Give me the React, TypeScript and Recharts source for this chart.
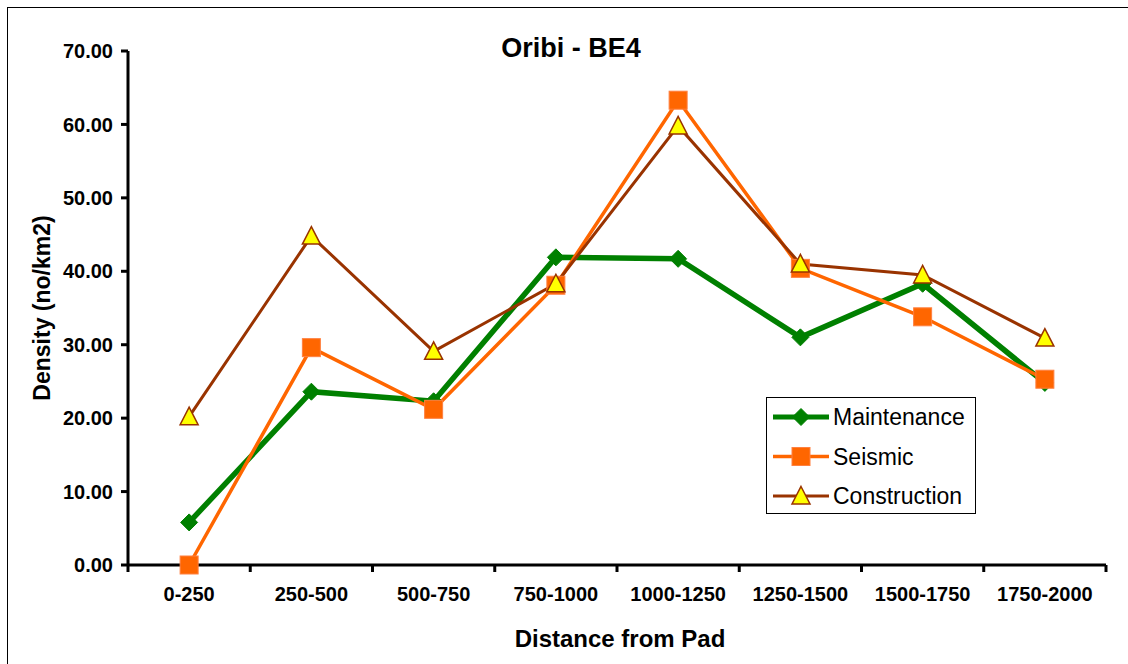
import React from 'react';
import { LineChart, Line, XAxis, YAxis } from 'recharts';

const categories = ['0-250', '250-500', '500-750', '750-1000', '1000-1250', '1250-1500', '1500-1750', '1750-2000'];
const maintenance = [5.8, 23.6, 22.3, 41.9, 41.7, 31.0, 38.3, 24.8];
const seismic = [0.0, 29.6, 21.2, 38.1, 63.3, 40.4, 33.8, 25.3];
const construction = [20.2, 44.8, 29.1, 38.3, 59.8, 41.0, 39.5, 30.9];
const yTicks = [0, 10, 20, 30, 40, 50, 60, 70];

const data = categories.map((c, i) => ({
  cat: c,
  Maintenance: maintenance[i],
  Seismic: seismic[i],
  Construction: construction[i],
}));

const FONT = '"Liberation Sans", Arial, sans-serif';
const GREEN = '#008000';
const ORANGE = '#FF6600';
const BROWN = '#993300';
const YELLOW = '#FFFF00';

const Diamond = ({ cx, cy }: any) => (
  <polygon points={`${cx},${cy - 8.5} ${cx + 8.5},${cy} ${cx},${cy + 8.5} ${cx - 8.5},${cy}`} fill={GREEN} stroke={GREEN} strokeWidth={1} />
);
const Square = ({ cx, cy }: any) => (
  <rect x={cx - 9} y={cy - 9} width={18} height={18} fill={ORANGE} stroke="#FF8040" strokeWidth={1} />
);
const Triangle = ({ cx, cy }: any) => (
  <polygon points={`${cx},${cy - 9.5} ${cx + 9},${cy + 8} ${cx - 9},${cy + 8}`} fill={YELLOW} stroke={BROWN} strokeWidth={1.5} />
);

const XTick = (props: any) => {
  const { x, y, payload, index, visibleTicksCount } = props;
  const off = payload && payload.offset ? payload.offset : 61;
  const last = index === (visibleTicksCount ?? categories.length) - 1;
  return (
    <g>
      <line x1={x - off} x2={x - off} y1={y} y2={y + 7} stroke="#000" strokeWidth={3} />
      {last && <line x1={x + off} x2={x + off} y1={y} y2={y + 7} stroke="#000" strokeWidth={3} />}
      <text x={x} y={y + 29} textAnchor="middle" dominantBaseline="central" fontFamily={FONT} fontWeight="bold" fontSize={20} fill="#000">
        {payload.value}
      </text>
    </g>
  );
};

const legendItems = [
  { name: 'Maintenance', color: GREEN, width: 5, Marker: Diamond },
  { name: 'Seismic', color: ORANGE, width: 3.5, Marker: Square },
  { name: 'Construction', color: BROWN, width: 3, Marker: Triangle },
];

const LegendBox = () => (
  <svg width={210} height={117} style={{ display: 'block' }}>
    <rect x={0.5} y={0.5} width={209} height={116} fill="#fff" stroke="#000" strokeWidth={1} />
    {legendItems.map((it, i) => {
      const cy = 20 + i * 39.5;
      const M = it.Marker;
      return (
        <g key={it.name}>
          <line x1={7} x2={63} y1={cy} y2={cy} stroke={it.color} strokeWidth={it.width} />
          <M cx={35} cy={cy} />
          <text x={67} y={cy} dominantBaseline="central" fontFamily={FONT} fontSize={23} fill="#000">
            {it.name}
          </text>
        </g>
      );
    })}
  </svg>
);

export default function App() {
  return (
    <>
      <style>{'html,body{margin:0;padding:0;overflow:hidden;background:#fff;}'}</style>
      <div
        style={{
          position: 'absolute',
          left: 7,
          top: 7,
          width: 1140,
          height: 680,
          border: '1px solid #000',
          boxSizing: 'border-box',
          background: '#fff',
        }}
      >
        <div style={{ position: 'absolute', left: 0, top: 0 }}>
          <LineChart width={1113} height={660} data={data} margin={{ top: 43, right: 15, left: 20, bottom: 63 }}>
            <XAxis
              dataKey="cat"
              scale="band"
              axisLine={{ stroke: '#000', strokeWidth: 3 }}
              tickLine={false}
              tickSize={0}
              tickMargin={0}
              tick={<XTick />}
              interval={0}
              height={40}
            />
            <YAxis
              type="number"
              domain={[0, 70]}
              ticks={yTicks}
              interval={0}
              width={100}
              tickFormatter={(v: number) => v.toFixed(2)}
              axisLine={{ stroke: '#000', strokeWidth: 3 }}
              tickLine={{ stroke: '#000', strokeWidth: 3 }}
              tickSize={7}
              tickMargin={8}
              tick={{ fill: '#000', fontSize: 20, fontWeight: 'bold', fontFamily: FONT }}
            />
            <Line
              type="linear"
              dataKey="Maintenance"
              stroke={GREEN}
              strokeWidth={5.5}
              isAnimationActive={false}
              dot={(p: any) => <Diamond key={`m-${p.index}`} cx={p.cx} cy={p.cy} />}
              activeDot={false}
            />
            <Line
              type="linear"
              dataKey="Seismic"
              stroke={ORANGE}
              strokeWidth={3.5}
              isAnimationActive={false}
              dot={(p: any) => <Square key={`s-${p.index}`} cx={p.cx} cy={p.cy} />}
              activeDot={false}
            />
            <Line
              type="linear"
              dataKey="Construction"
              stroke={BROWN}
              strokeWidth={3}
              isAnimationActive={false}
              dot={(p: any) => <Triangle key={`c-${p.index}`} cx={p.cx} cy={p.cy} />}
              activeDot={false}
            />
          </LineChart>
        </div>
        <div style={{ position: 'absolute', left: 758, top: 389 }}>
          <LegendBox />
        </div>
        <svg width={1113} height={668} style={{ position: 'absolute', left: 0, top: 0, pointerEvents: 'none' }}>
          <text x={563} y={40} textAnchor="middle" dominantBaseline="central" fontFamily={FONT} fontWeight="bold" fontSize={27} fill="#000">
            Oribi - BE4
          </text>
          <text x={612} y={630} textAnchor="middle" dominantBaseline="central" fontFamily={FONT} fontWeight="bold" fontSize={24} fill="#000">
            Distance from Pad
          </text>
          <text
            x={34}
            y={300}
            textAnchor="middle"
            dominantBaseline="central"
            fontFamily={FONT}
            fontWeight="bold"
            fontSize={23}
            fill="#000"
            transform="rotate(-90 34 300)"
          >
            Density (no/km2)
          </text>
        </svg>
      </div>
    </>
  );
}
